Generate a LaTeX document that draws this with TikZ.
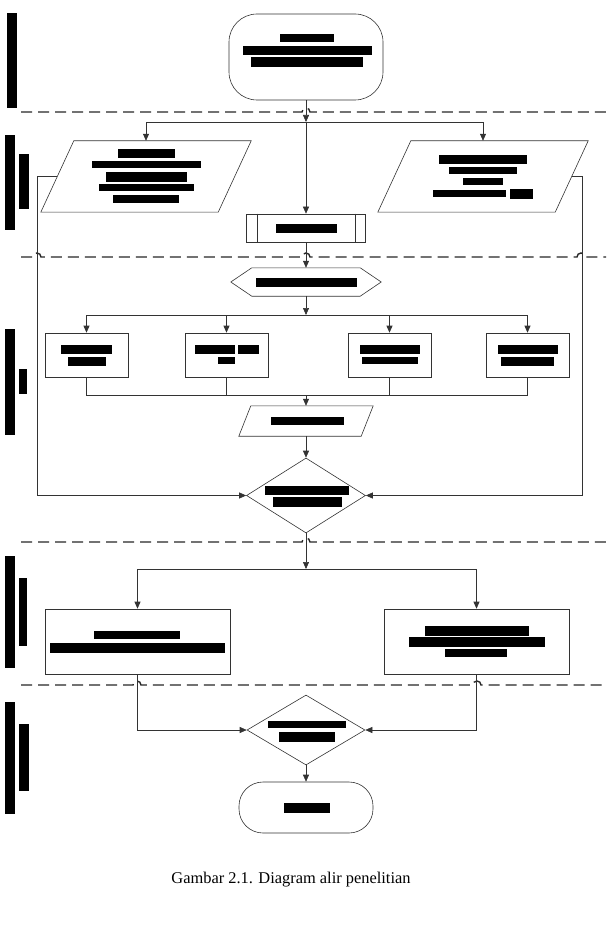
\documentclass[tikz,border=0pt]{standalone}
\usepackage{fontspec}
\setmainfont{Liberation Serif}
\usetikzlibrary{arrows.meta,shapes.geometric}
\newcommand{\redact}[4]{\fill (#1,#2) rectangle (#3,#4);}

\begin{document}
\begin{tikzpicture}[
    x=1pt, y=-1pt,
    font=\fontsize{16.4}{19}\selectfont,
      >={Triangle[length=7pt,width=6pt]},
      line/.style={draw=black!80, line width=0.6pt},
      terminal/.style={rectangle, line, rounded corners=28, inner sep=0pt, minimum width=154, minimum height=86},
      io data/.style={rectangle, inner sep=0pt, minimum width=210, minimum height=71},
      process box/.style={rectangle, line, inner sep=0pt, minimum width=83, minimum height=44},
      result box/.style={rectangle, line, inner sep=0pt, minimum width=185, minimum height=65},
      decision/.style={diamond, line, inner sep=0pt, minimum width=119, minimum height=75},
      plain/.style={rectangle, inner sep=0pt},
      arrow/.style={->, line},
      lane/.style={draw=black!85, line width=1.4pt, dash pattern=on 11pt off 6pt}
    ]
      \useasboundingbox (0,0) rectangle (606,925);

      % lanes
      \draw[lane] (21,112) -- (302,112) arc[start angle=180, end angle=360, radius=4] -- (606,112);
      \draw[lane] (21,257) -- (33,257) arc[start angle=180, end angle=360, radius=4] -- (302,257) arc[start angle=180, end angle=360, radius=4] -- (577,257) arc[start angle=180, end angle=360, radius=4] -- (606,257);
      \draw[lane] (21,542) -- (302,542) arc[start angle=180, end angle=360, radius=4] -- (606,542);
      \draw[lane] (21,685) -- (133,685) arc[start angle=180, end angle=360, radius=4] -- (473,685) arc[start angle=180, end angle=360, radius=4] -- (606,685);

      % lane labels
      \redact{7}{13}{17}{108}
      \redact{5}{135}{15}{230} \redact{19}{154}{29}{209}
      \redact{5}{329}{15}{435} \redact{19}{369}{27}{394}
      \redact{5}{556}{15}{668} \redact{19}{578}{27}{646}
      \redact{5}{702}{15}{814} \redact{19}{724}{29}{791}

      % nodes
      \node[terminal] (start) at (306,57) {};
      \node[io data] (literature) at (146,176.5) {};
      \node[io data] (fielddata) at (483,176.5) {};
      \node[plain, line, minimum width=119, minimum height=28] (survey) at (306,228) {};
      \node[plain, minimum width=150, minimum height=28] (prep) at (306,282) {};
      \node[process box] (testA) at (86.5,355) {};
      \node[process box] (testB) at (226.5,355) {};
      \node[process box] (testC) at (389.5,355) {};
      \node[process box] (testD) at (527.5,355) {};
      \node[plain, minimum width=134, minimum height=30] (results) at (306,421) {};
      \node[decision] (check) at (306,495.5) {};
      \node[result box] (analysisA) at (137.5,641.5) {};
      \node[result box] (analysisB) at (476.5,641.5) {};
      \node[decision, minimum width=118, minimum height=70] (conclude) at (306,730) {};
      \node[terminal, minimum width=134, minimum height=51, rounded corners=24] (finish) at (306,807.5) {};
      \node (caption) at (291,880) {Gambar 2.1. Diagram alir penelitian};

      % outlines of the slanted and six-sided shapes
      \draw[line] ([xshift=33]literature.north west) -- (literature.north east) -- ([xshift=-33]literature.south east) -- (literature.south west) -- cycle;
      \draw[line] ([xshift=33]fielddata.north west) -- (fielddata.north east) -- ([xshift=-33]fielddata.south east) -- (fielddata.south west) -- cycle;
      \draw[line] ([xshift=12]results.north west) -- (results.north east) -- ([xshift=-12]results.south east) -- (results.south west) -- cycle;
      \draw[line] ([xshift=21]prep.north west) -- ([xshift=-21]prep.north east) -- (prep.east) -- ([xshift=-21]prep.south east) -- ([xshift=21]prep.south west) -- (prep.west) -- cycle;
      \draw[line] ([xshift=11]survey.north west) -- ([xshift=11]survey.south west);
      \draw[line] ([xshift=-11]survey.north east) -- ([xshift=-11]survey.south east);

      % redacted texts
      \redact{280}{34}{334}{42} \redact{243}{46}{372}{55} \redact{251}{57}{363}{67}
      \redact{118}{149}{175}{158} \redact{92}{161}{201}{168} \redact{106}{172}{187}{182} \redact{99}{184}{194}{191} \redact{113}{195}{179}{203}
      \redact{439}{155}{527}{164} \redact{449}{167}{517}{174} \redact{463}{178}{503}{185} \redact{433}{190}{506}{197} \redact{510}{189}{533}{199}
      \redact{276}{224}{337}{233}
      \redact{256}{278}{357}{287}
      \redact{61}{345}{112}{354} \redact{68}{357}{106}{366}
      \redact{195}{345}{235}{354} \redact{238}{345}{259}{354} \redact{218}{357}{235}{364}
      \redact{360}{345}{420}{354} \redact{362}{357}{418}{364}
      \redact{498}{345}{558}{354} \redact{501}{357}{554}{366}
      \redact{271}{417}{344}{425}
      \redact{265}{486}{349}{495} \redact{273}{497}{342}{507}
      \redact{94}{631}{180}{639} \redact{50}{643}{225}{653}
      \redact{425}{626}{529}{636} \redact{409}{637}{545}{647} \redact{445}{649}{507}{657}
      \redact{268}{721}{346}{728} \redact{279}{732}{335}{742}
      \redact{284}{803}{330}{813}

      % junctions
      \coordinate (split1) at (306,122);
      \coordinate (split2) at (306,315);
      \coordinate (merge) at (306,395);
      \coordinate (split3) at (306,569);

      % connectors
      \draw[arrow] (start) -- (split1);
      \draw[arrow] (split1) -| (literature);
      \draw[arrow] (split1) -| (fielddata);
      \draw[arrow] (split1) -- (survey);
      \draw[arrow] (survey) -- (prep);
      \draw[arrow] (prep) -- (split2);
      \draw[arrow] (split2) -| (testA);
      \draw[arrow] (split2) -| (testB);
      \draw[arrow] (split2) -| (testC);
      \draw[arrow] (split2) -| (testD);
      \draw[line] (testA) |- (merge);
      \draw[line] (testD) |- (merge);
      \draw[line] (testB) -- (testB |- merge);
      \draw[line] (testC) -- (testC |- merge);
      \draw[arrow] (merge) -- (results);
      \draw[arrow] (results) -- (check);
      \draw[arrow] ([xshift=16]literature.west) -- ++(-20,0) |- (check.west);
      \draw[arrow] ([xshift=-16]fielddata.east) -- ++(10,0) |- (check.east);
      \draw[arrow] (check) -- (split3);
      \draw[arrow] (split3) -| (analysisA);
      \draw[arrow] (split3) -| (analysisB);
      \draw[arrow] (analysisA) |- (conclude.west);
      \draw[arrow] (analysisB) |- (conclude.east);
      \draw[arrow] (conclude) -- (finish);
    \end{tikzpicture}
\end{document}
